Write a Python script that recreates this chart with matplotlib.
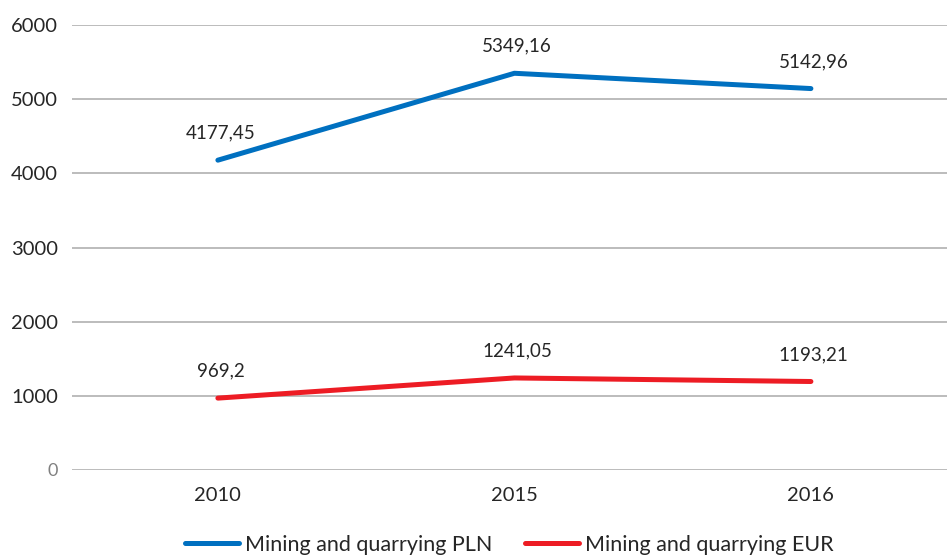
import matplotlib.pyplot as plt
import numpy as np

plt.rcParams['font.family'] = ['Lato', 'DejaVu Sans']

# Data
years = ['2010', '2015', '2016']
pln = [4177.45, 5349.16, 5142.96]
eur = [969.2, 1241.05, 1193.21]
series_names = ['Mining and quarrying PLN', 'Mining and quarrying EUR']
y_ticks = [0, 1000, 2000, 3000, 4000, 5000, 6000]

fig = plt.figure(figsize=(9.47, 5.57), dpi=100)
ax = fig.add_axes([72 / 947, 1 - 470 / 557, 1 - 72 / 947, (470 - 25) / 557])

x = np.arange(len(years))
ax.plot(x, pln, color='#0070c0', lw=3.6, solid_capstyle='round', label=series_names[0])
ax.plot(x, eur, color='#ed1c24', lw=3.6, solid_capstyle='round', label=series_names[1])

# Data labels
for vals in (pln, eur):
    for xi, v in zip(x, vals):
        ax.annotate(str(v).replace('.', ','), (xi, v), xytext=(2, 19.5), textcoords='offset points',
                    ha='center', va='center', fontsize=13.5, color='#262626')

ax.set_xlim(-0.492, 2.459)
ax.set_ylim(0, 6000)
ax.set_yticks(y_ticks)
ax.set_yticklabels([str(t) for t in y_ticks])
ax.set_xticks(x)
ax.set_xticklabels(years)
ax.tick_params(axis='both', length=0, labelsize=14.5, labelcolor='#262626')
ax.tick_params(axis='y', pad=10)
ax.tick_params(axis='x', pad=12)
zero = ax.get_yticklabels()[0]
zero.set_color('#808080')
zero.set_fontsize(13)

ax.grid(axis='y', color='#b0b0b0', lw=1.2)
ax.set_axisbelow(True)
for s in ax.spines.values():
    s.set_visible(False)

ax.legend(loc='center', bbox_to_anchor=(0.5, -0.168), ncol=2, frameon=False, fontsize=15.5,
          handlelength=2.5, handletextpad=0.3, columnspacing=1.5, labelcolor='#262626')

fig.savefig('out.png', dpi=100)
